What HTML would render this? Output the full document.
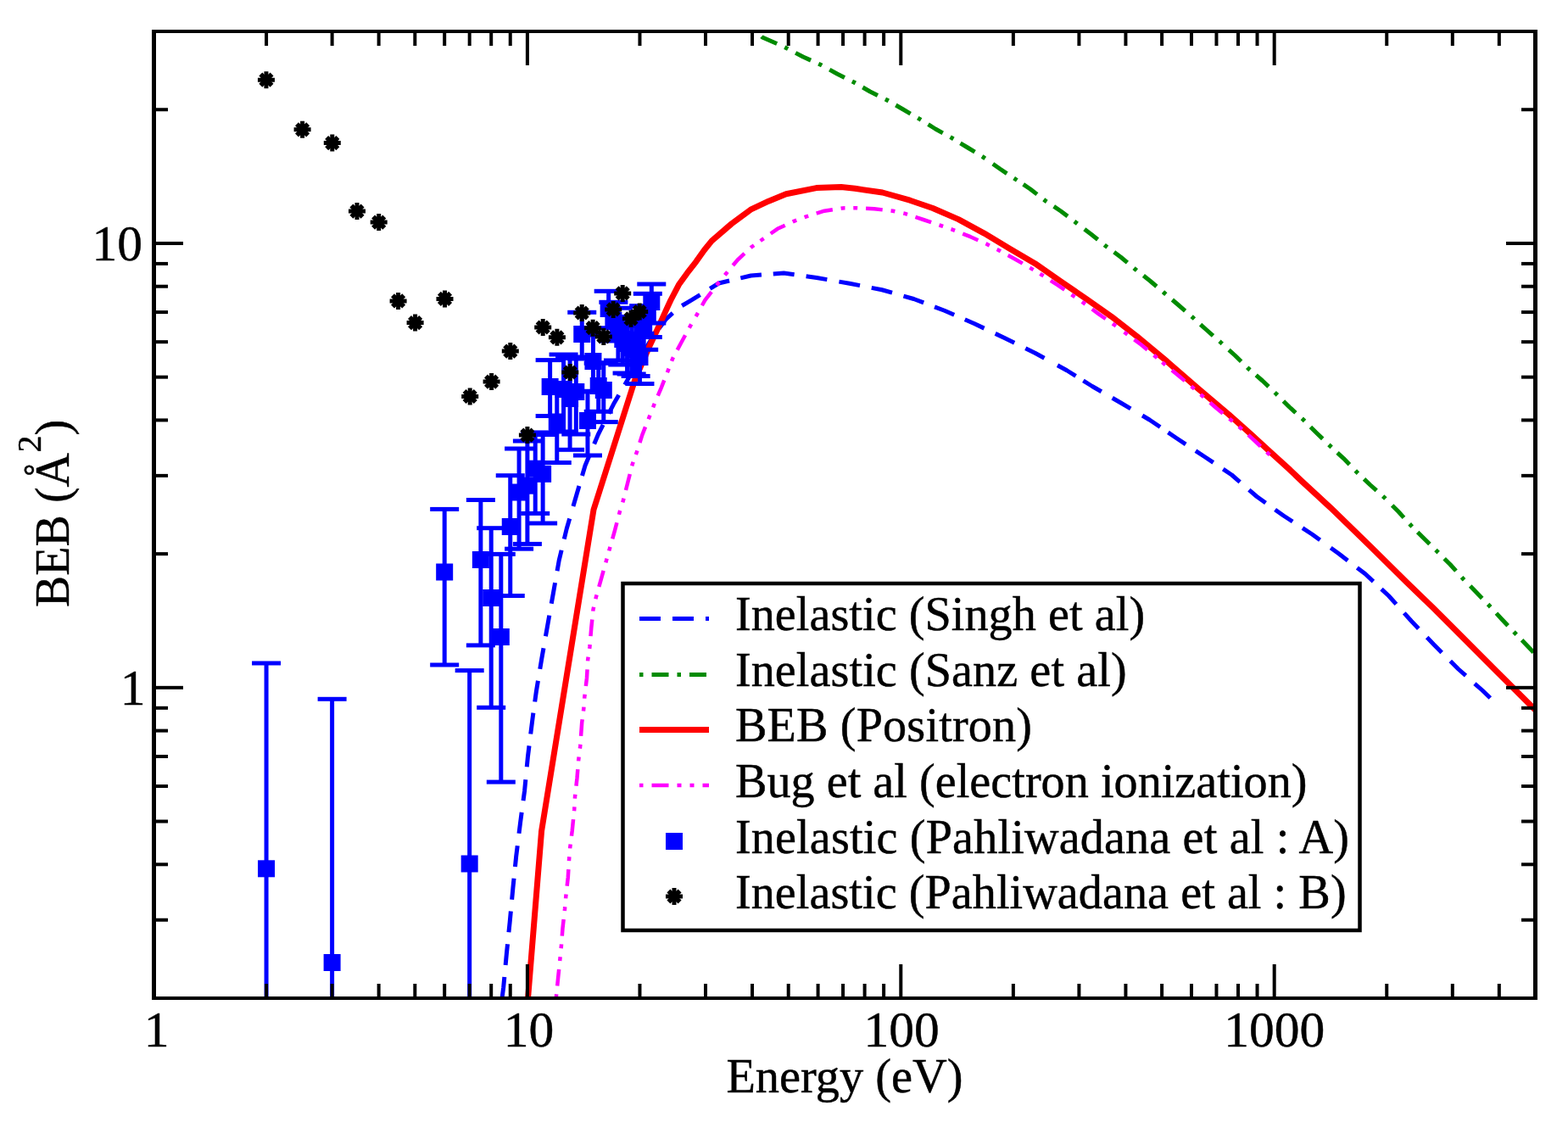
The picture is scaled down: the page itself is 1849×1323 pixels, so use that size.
<!DOCTYPE html><html><head><meta charset="utf-8"><title>BEB cross section plot</title>
<style>html,body{margin:0;padding:0;background:#fff;}svg{display:block;}text{font-family:"Liberation Serif","Times New Roman",serif;fill:#000;stroke:#000;stroke-width:0.45px;}</style></head><body>
<svg width="1849" height="1323" viewBox="0 0 1849 1323">
<rect x="0" y="0" width="1849" height="1323" fill="#fff"/>
<defs><clipPath id="pc"><rect x="181.5" y="37.0" width="1629.0" height="1140.0"/></clipPath></defs>
<g clip-path="url(#pc)" fill="none" stroke-linejoin="round">
<path d="M897.6 42.6 L899 44 L915 51 L928 57 L929.51 57.8" stroke="#008b00" stroke-width="5" stroke-dasharray="4.4 10 20 10" stroke-dashoffset="13.69"/>
<path d="M929.51 57.8 L947 67 L968 76.5 L969.6 77.39" stroke="#008b00" stroke-width="5" stroke-dasharray="4.4 10 20 10" stroke-dashoffset="4.64"/>
<path d="M969.6 77.39 L987 87 L1007 97 L1008.99 98.15" stroke="#008b00" stroke-width="5" stroke-dasharray="4.4 10 20 10" stroke-dashoffset="4.52"/>
<path d="M1008.99 98.15 L1026 108 L1046 118 L1047.99 119.15" stroke="#008b00" stroke-width="5" stroke-dasharray="4.4 10 20 10" stroke-dashoffset="4.74"/>
<path d="M1047.99 119.15 L1065 129 L1084.5 140.4 L1086.3 141.53" stroke="#008b00" stroke-width="5" stroke-dasharray="4.4 10 20 10" stroke-dashoffset="4.74"/>
<path d="M1086.3 141.53 L1103 152 L1123 163 L1124.39 163.85" stroke="#008b00" stroke-width="5" stroke-dasharray="4.4 10 20 10" stroke-dashoffset="4.69"/>
<path d="M1124.39 163.85 L1141 174 L1160.5 186 L1162.84 187.64" stroke="#008b00" stroke-width="5" stroke-dasharray="4.4 10 20 10" stroke-dashoffset="4.94"/>
<path d="M1162.84 187.64 L1179 199 L1197 211 L1199.5 212.66" stroke="#008b00" stroke-width="5" stroke-dasharray="4.4 10 20 10" stroke-dashoffset="4.65"/>
<path d="M1199.5 212.66 L1215 223 L1233 237 L1234.59 238.06" stroke="#008b00" stroke-width="5" stroke-dasharray="4.4 10 20 10" stroke-dashoffset="5.77"/>
<path d="M1234.59 238.06 L1251 249 L1268.75 262.5 L1270.88 264.12" stroke="#008b00" stroke-width="5" stroke-dasharray="4.4 10 20 10" stroke-dashoffset="4.68"/>
<path d="M1270.88 264.12 L1286.75 276.25 L1303.75 290 L1305.96 291.63" stroke="#008b00" stroke-width="5" stroke-dasharray="4.4 10 20 10" stroke-dashoffset="4.42"/>
<path d="M1305.96 291.63 L1321.75 303.25 L1338.75 317.5 L1340.74 319.07" stroke="#008b00" stroke-width="5" stroke-dasharray="4.4 10 20 10" stroke-dashoffset="4.79"/>
<path d="M1340.74 319.07 L1356.25 331.25 L1373 345.5 L1375.04 347.24" stroke="#008b00" stroke-width="5" stroke-dasharray="4.4 10 20 10" stroke-dashoffset="4.68"/>
<path d="M1375.04 347.24 L1390 360 L1406.75 374.5 L1408.52 376.11" stroke="#008b00" stroke-width="5" stroke-dasharray="4.4 10 20 10" stroke-dashoffset="4.73"/>
<path d="M1408.52 376.11 L1423 389.25 L1440 404.25 L1441.71 405.81" stroke="#008b00" stroke-width="5" stroke-dasharray="4.4 10 20 10" stroke-dashoffset="4.85"/>
<path d="M1441.71 405.81 L1456.5 419.25 L1472 434.5 L1474.05 436.27" stroke="#008b00" stroke-width="5" stroke-dasharray="4.4 10 20 10" stroke-dashoffset="4.41"/>
<path d="M1474.05 436.27 L1488.75 449 L1505 464.5 L1506.58 466.08" stroke="#008b00" stroke-width="5" stroke-dasharray="4.4 10 20 10" stroke-dashoffset="4.95"/>
<path d="M1506.58 466.08 L1520.5 480 L1537 495 L1538.63 496.63" stroke="#008b00" stroke-width="5" stroke-dasharray="4.4 10 20 10" stroke-dashoffset="4.71"/>
<path d="M1538.63 496.63 L1552.5 510.5 L1568.25 525.6 L1570.16 527.38" stroke="#008b00" stroke-width="5" stroke-dasharray="4.4 10 20 10" stroke-dashoffset="4.79"/>
<path d="M1570.16 527.38 L1584.4 540.6 L1600.25 557 L1601.55 558.24" stroke="#008b00" stroke-width="5" stroke-dasharray="4.4 10 20 10" stroke-dashoffset="4.97"/>
<path d="M1601.55 558.24 L1615.75 571.75 L1632.75 587 L1634.8 589.05" stroke="#008b00" stroke-width="5" stroke-dasharray="4.4 10 20 10" stroke-dashoffset="4.80"/>
<path d="M1634.8 589.05 L1648.75 603 L1663.75 619.5 L1665.49 621.24" stroke="#008b00" stroke-width="5" stroke-dasharray="4.4 10 20 10" stroke-dashoffset="4.67"/>
<path d="M1665.49 621.24 L1678.75 634.5 L1695 650.5 L1696.33 651.83" stroke="#008b00" stroke-width="5" stroke-dasharray="4.4 10 20 10" stroke-dashoffset="5.64"/>
<path d="M1696.33 651.83 L1710.25 665.75 L1725.75 683 L1726.87 684.14" stroke="#008b00" stroke-width="5" stroke-dasharray="4.4 10 20 10" stroke-dashoffset="4.71"/>
<path d="M1726.87 684.14 L1740.75 698.25 L1756.5 714.5 L1757.9 716.02" stroke="#008b00" stroke-width="5" stroke-dasharray="4.4 10 20 10" stroke-dashoffset="4.61"/>
<path d="M1757.9 716.02 L1771.25 730.5 L1787 747 L1788.41 748.46" stroke="#008b00" stroke-width="5" stroke-dasharray="4.4 10 20 10" stroke-dashoffset="4.70"/>
<path d="M1788.41 748.46 L1801.5 762 L1815 776" stroke="#008b00" stroke-width="5" stroke-dasharray="4.4 10 20 10" stroke-dashoffset="5.56"/>
<path d="M591.2 1200 L592.4 1174.2 L593.7 1164.2 L597.4 1124.3 L599.23 1106.25" stroke="#0000ff" stroke-width="5" stroke-dasharray="25 14" stroke-dashoffset="15.82"/>
<path d="M599.23 1106.25 L601.2 1086.9 L602.99 1067.6" stroke="#0000ff" stroke-width="5" stroke-dasharray="25 14" stroke-dashoffset="32.05"/>
<path d="M602.99 1067.6 L604.9 1047 L606.73 1028.95" stroke="#0000ff" stroke-width="5" stroke-dasharray="25 14" stroke-dashoffset="32.12"/>
<path d="M606.73 1028.95 L608.7 1009.6 L611.11 989.95" stroke="#0000ff" stroke-width="5" stroke-dasharray="25 14" stroke-dashoffset="32.05"/>
<path d="M611.11 989.95 L613.6 969.7 L616.1 951" stroke="#0000ff" stroke-width="5" stroke-dasharray="25 14" stroke-dashoffset="31.70"/>
<path d="M616.1 951 L618.6 932.3 L620.56 911.75" stroke="#0000ff" stroke-width="5" stroke-dasharray="25 14" stroke-dashoffset="32.03"/>
<path d="M620.56 911.75 L622.4 892.4 L626.1 862.5 L628.3 845 L628.91 840.53" stroke="#0000ff" stroke-width="5" stroke-dasharray="25 14" stroke-dashoffset="31.46"/>
<path d="M628.91 840.53 L632.4 815.1 L635.6 795.8" stroke="#0000ff" stroke-width="5" stroke-dasharray="25 14" stroke-dashoffset="25.83"/>
<path d="M635.6 795.8 L638.8 776.5 L642.2 757.25" stroke="#0000ff" stroke-width="5" stroke-dasharray="25 14" stroke-dashoffset="31.94"/>
<path d="M642.2 757.25 L645.6 738 L649 718.75" stroke="#0000ff" stroke-width="5" stroke-dasharray="25 14" stroke-dashoffset="31.95"/>
<path d="M649 718.75 L652.4 699.5 L655.8 680.2" stroke="#0000ff" stroke-width="5" stroke-dasharray="25 14" stroke-dashoffset="31.95"/>
<path d="M655.8 680.2 L659.2 660.9 L663.7 642.2" stroke="#0000ff" stroke-width="5" stroke-dasharray="25 14" stroke-dashoffset="31.90"/>
<path d="M663.7 642.2 L668.2 623.5 L673.81 604.28" stroke="#0000ff" stroke-width="5" stroke-dasharray="25 14" stroke-dashoffset="32.27"/>
<path d="M673.81 604.28 L679.5 584.8 L684.71 567.03" stroke="#0000ff" stroke-width="5" stroke-dasharray="25 14" stroke-dashoffset="31.47"/>
<path d="M684.71 567.03 L690 549 L697.75 530.5" stroke="#0000ff" stroke-width="5" stroke-dasharray="25 14" stroke-dashoffset="32.71"/>
<path d="M697.75 530.5 L705.5 512 L714.5 494.3" stroke="#0000ff" stroke-width="5" stroke-dasharray="25 14" stroke-dashoffset="31.44"/>
<path d="M714.5 494.3 L723.5 476.6 L740 448 L755 421 L769.12 398.4" stroke="#0000ff" stroke-width="5" stroke-dasharray="25 14" stroke-dashoffset="31.64"/>
<path d="M769.12 398.4 L770 397 L785.3 376.5 L800 363 L815 354.1 L831.41 343.98" stroke="#0000ff" stroke-width="5" stroke-dasharray="25 14" stroke-dashoffset="25.94"/>
<path d="M831.41 343.98 L847.6 334 L866.71 329.46" stroke="#0000ff" stroke-width="5" stroke-dasharray="25 14" stroke-dashoffset="32.15"/>
<path d="M866.71 329.46 L885.5 325 L904.88 323.5" stroke="#0000ff" stroke-width="5" stroke-dasharray="25 14" stroke-dashoffset="32.19"/>
<path d="M904.88 323.5 L924.25 322 L943.62 324.75" stroke="#0000ff" stroke-width="5" stroke-dasharray="25 14" stroke-dashoffset="32.07"/>
<path d="M943.62 324.75 L963 327.5 L982.37 330.88" stroke="#0000ff" stroke-width="5" stroke-dasharray="25 14" stroke-dashoffset="31.93"/>
<path d="M982.37 330.88 L1001.75 334.25 L1020.88 338" stroke="#0000ff" stroke-width="5" stroke-dasharray="25 14" stroke-dashoffset="31.83"/>
<path d="M1020.88 338 L1040 341.75 L1058.75 347.12" stroke="#0000ff" stroke-width="5" stroke-dasharray="25 14" stroke-dashoffset="32.01"/>
<path d="M1058.75 347.12 L1077.5 352.5 L1095.62 359.37" stroke="#0000ff" stroke-width="5" stroke-dasharray="25 14" stroke-dashoffset="31.99"/>
<path d="M1095.62 359.37 L1113.75 366.25 L1131.5 374" stroke="#0000ff" stroke-width="5" stroke-dasharray="25 14" stroke-dashoffset="32.11"/>
<path d="M1131.5 374 L1149.25 381.75 L1167.12 390.25" stroke="#0000ff" stroke-width="5" stroke-dasharray="25 14" stroke-dashoffset="32.13"/>
<path d="M1167.12 390.25 L1185 398.75 L1202.75 407.5" stroke="#0000ff" stroke-width="5" stroke-dasharray="25 14" stroke-dashoffset="31.71"/>
<path d="M1202.75 407.5 L1220.5 416.25 L1239.25 426.5" stroke="#0000ff" stroke-width="5" stroke-dasharray="25 14" stroke-dashoffset="31.71"/>
<path d="M1239.25 426.5 L1258 436.75 L1273 446.12" stroke="#0000ff" stroke-width="5" stroke-dasharray="25 14" stroke-dashoffset="30.13"/>
<path d="M1273 446.12 L1288 455.5 L1305.25 465.5" stroke="#0000ff" stroke-width="5" stroke-dasharray="25 14" stroke-dashoffset="33.81"/>
<path d="M1305.25 465.5 L1322.5 475.5 L1340.17 485.94" stroke="#0000ff" stroke-width="5" stroke-dasharray="25 14" stroke-dashoffset="31.56"/>
<path d="M1340.17 485.94 L1355.5 495 L1372.78 506.74" stroke="#0000ff" stroke-width="5" stroke-dasharray="25 14" stroke-dashoffset="30.97"/>
<path d="M1372.78 506.74 L1387.5 516.75 L1404.08 527.71" stroke="#0000ff" stroke-width="5" stroke-dasharray="25 14" stroke-dashoffset="33.34"/>
<path d="M1404.08 527.71 L1420.4 538.5 L1436.52 549.3" stroke="#0000ff" stroke-width="5" stroke-dasharray="25 14" stroke-dashoffset="31.99"/>
<path d="M1436.52 549.3 L1452.5 560 L1467.49 572.96" stroke="#0000ff" stroke-width="5" stroke-dasharray="25 14" stroke-dashoffset="32.04"/>
<path d="M1467.49 572.96 L1482 585.5 L1498.04 596.96" stroke="#0000ff" stroke-width="5" stroke-dasharray="25 14" stroke-dashoffset="31.91"/>
<path d="M1498.04 596.96 L1513.5 608 L1547.25 630 L1562.9 641.36" stroke="#0000ff" stroke-width="5" stroke-dasharray="25 14" stroke-dashoffset="32.19"/>
<path d="M1562.9 641.36 L1578.25 652.5 L1610 676.75 L1624.21 690.06" stroke="#0000ff" stroke-width="5" stroke-dasharray="25 14" stroke-dashoffset="31.19"/>
<path d="M1624.21 690.06 L1637.5 702.5 L1651.12 717.64" stroke="#0000ff" stroke-width="5" stroke-dasharray="25 14" stroke-dashoffset="32.42"/>
<path d="M1651.12 717.64 L1664.5 732.5 L1677.74 746.36" stroke="#0000ff" stroke-width="5" stroke-dasharray="25 14" stroke-dashoffset="32.01"/>
<path d="M1677.74 746.36 L1691.25 760.5 L1705.22 774.47" stroke="#0000ff" stroke-width="5" stroke-dasharray="25 14" stroke-dashoffset="31.83"/>
<path d="M1705.22 774.47 L1719.5 788.75 L1733.7 801.35" stroke="#0000ff" stroke-width="5" stroke-dasharray="25 14" stroke-dashoffset="31.84"/>
<path d="M1733.7 801.35 L1748.25 814.25 L1760 825.5" stroke="#0000ff" stroke-width="5" stroke-dasharray="25 14" stroke-dashoffset="31.98"/>
<path d="M620.7 1200 L638.6 979.7 L700 601 L749 447 L766.8 406.2 L775.4 388 L785.6 365.4 L790.9 354 L800.4 335.8 L810.2 322.2 L820.8 308.6 L830.4 295 L839.2 284.1 L862.5 264 L885.2 247.2 L906.4 237.2 L927 228.7 L962.7 221.6 L991.9 220.6 L1008.2 222.3 L1040.6 227 L1073 236.2 L1100 245.5 L1130.2 258.6 L1160.5 275.1 L1190.7 293.2 L1220.5 310.7 L1250.2 331.4 L1280.5 352.2 L1310.7 373.3 L1340.5 396.5 L1376.3 426.3 L1412.6 458 L1448.9 488.6 L1475 511.8 L1496.2 531.3 L1519.9 552.9 L1535.6 567.9 L1551.9 582.9 L1568.9 598.6 L1617.2 645.5 L1658.4 686.3 L1690 716.8 L1724 750.8 L1764.9 791.7 L1808 834.7 L1815 841.7" stroke="#ff0000" stroke-width="7"/>
<path d="M655.3 1200 L656 1174.2 L658.5 1149.3 L660.3 1131.8 L661.8 1116.8 L663.5 1094.4 L666 1072 L667.3 1057 L669.8 1034.5 L671 1014.6 L672.2 999.6 L674.7 979.7 L677.2 954.7 L678 939.8 L680.5 917.3 L682.2 896.1 L684.2 880 L686.2 852 L688.2 836.6 L689.3 821.9 L692 799.2 L693.2 777.7 L694.39 769.73" stroke="#ff00ff" stroke-width="4.5" stroke-dasharray="19.7 9.9 4.9 9.9 4.9 9.9" stroke-dashoffset="21.63"/>
<path d="M694.39 769.73 L695.4 763 L697.3 740.3 L699.5 718.7 L701.28 710.99" stroke="#ff00ff" stroke-width="4.5" stroke-dasharray="19.7 9.9 4.9 9.9 4.9 9.9" stroke-dashoffset="39.46"/>
<path d="M701.28 710.99 L702.9 704 L709 682.4 L714.7 662 L716.91 654.09" stroke="#ff00ff" stroke-width="4.5" stroke-dasharray="19.7 9.9 4.9 9.9 4.9 9.9" stroke-dashoffset="39.43"/>
<path d="M716.91 654.09 L718.8 647.3 L724.9 625.8 L730.6 604.2 L732.75 597.18" stroke="#ff00ff" stroke-width="4.5" stroke-dasharray="19.7 9.9 4.9 9.9 4.9 9.9" stroke-dashoffset="39.65"/>
<path d="M732.75 597.18 L735.1 589.5 L741 566 L745.7 547.5 L748.25 540.37" stroke="#ff00ff" stroke-width="4.5" stroke-dasharray="19.7 9.9 4.9 9.9 4.9 9.9" stroke-dashoffset="39.36"/>
<path d="M748.25 540.37 L751 532.7 L757.4 512.6 L765.8 491.4 L768.27 485.01" stroke="#ff00ff" stroke-width="4.5" stroke-dasharray="19.7 9.9 4.9 9.9 4.9 9.9" stroke-dashoffset="39.81"/>
<path d="M768.27 485.01 L771.1 477.7 L779.6 457.6 L788 436.4 L790.37 430.24" stroke="#ff00ff" stroke-width="4.5" stroke-dasharray="19.7 9.9 4.9 9.9 4.9 9.9" stroke-dashoffset="39.39"/>
<path d="M790.37 430.24 L793.3 422.6 L802.9 404.7 L814.5 383.5 L817.86 377.72" stroke="#ff00ff" stroke-width="4.5" stroke-dasharray="19.7 9.9 4.9 9.9 4.9 9.9" stroke-dashoffset="39.65"/>
<path d="M817.86 377.72 L821.9 370.8 L831.4 353.9 L846.2 334.8 L851.45 328.43" stroke="#ff00ff" stroke-width="4.5" stroke-dasharray="19.7 9.9 4.9 9.9 4.9 9.9" stroke-dashoffset="39.10"/>
<path d="M851.45 328.43 L856.5 322.3 L870 306.25 L886.25 291.25 L892.88 286.61" stroke="#ff00ff" stroke-width="4.5" stroke-dasharray="19.7 9.9 4.9 9.9 4.9 9.9" stroke-dashoffset="39.18"/>
<path d="M892.88 286.61 L898.75 282.5 L916.8 269.8 L936.8 260.6 L943.95 257.95" stroke="#ff00ff" stroke-width="4.5" stroke-dasharray="19.7 9.9 4.9 9.9 4.9 9.9" stroke-dashoffset="39.81"/>
<path d="M943.95 257.95 L950.8 255.4 L972.1 248.7 L993.6 245.4 L1001.39 245.3" stroke="#ff00ff" stroke-width="4.5" stroke-dasharray="19.7 9.9 4.9 9.9 4.9 9.9" stroke-dashoffset="39.41"/>
<path d="M1001.39 245.3 L1008.7 245.2 L1030.9 246.3 L1053 248.7 L1060.35 250.33" stroke="#ff00ff" stroke-width="4.5" stroke-dasharray="19.7 9.9 4.9 9.9 4.9 9.9" stroke-dashoffset="39.51"/>
<path d="M1060.35 250.33 L1067.4 251.9 L1088.8 259 L1109.4 266 L1116.79 268.59" stroke="#ff00ff" stroke-width="4.5" stroke-dasharray="19.7 9.9 4.9 9.9 4.9 9.9" stroke-dashoffset="39.29"/>
<path d="M1116.79 268.59 L1123.4 270.9 L1144.4 279.2 L1163.9 287.9 L1171.23 291.68" stroke="#ff00ff" stroke-width="4.5" stroke-dasharray="19.7 9.9 4.9 9.9 4.9 9.9" stroke-dashoffset="39.46"/>
<path d="M1171.23 291.68 L1177.1 294.7 L1197.3 305.7 L1216 316.6 L1222.49 320.51" stroke="#ff00ff" stroke-width="4.5" stroke-dasharray="19.7 9.9 4.9 9.9 4.9 9.9" stroke-dashoffset="39.45"/>
<path d="M1222.49 320.51 L1228.6 324.2 L1247.2 336.1 L1265.7 348.8 L1271.69 352.91" stroke="#ff00ff" stroke-width="4.5" stroke-dasharray="19.7 9.9 4.9 9.9 4.9 9.9" stroke-dashoffset="39.83"/>
<path d="M1271.69 352.91 L1277.8 357.1 L1295.7 370.4 L1313.7 382.8 L1320.74 388.04" stroke="#ff00ff" stroke-width="4.5" stroke-dasharray="19.7 9.9 4.9 9.9 4.9 9.9" stroke-dashoffset="39.34"/>
<path d="M1320.74 388.04 L1325.8 391.8 L1345.4 406.2 L1360.9 419 L1367.42 424.54" stroke="#ff00ff" stroke-width="4.5" stroke-dasharray="19.7 9.9 4.9 9.9 4.9 9.9" stroke-dashoffset="38.42"/>
<path d="M1367.42 424.54 L1372.2 428.6 L1389.5 442.8 L1406.2 456.7 L1412.07 461.85" stroke="#ff00ff" stroke-width="4.5" stroke-dasharray="19.7 9.9 4.9 9.9 4.9 9.9" stroke-dashoffset="40.39"/>
<path d="M1412.07 461.85 L1417.6 466.7 L1434.4 481.2 L1451.6 495.3 L1457.19 499.96" stroke="#ff00ff" stroke-width="4.5" stroke-dasharray="19.7 9.9 4.9 9.9 4.9 9.9" stroke-dashoffset="39.51"/>
<path d="M1457.19 499.96 L1463 504.8 L1479.3 519.5 L1495.7 534.9 L1502.7 541" stroke="#ff00ff" stroke-width="4.5" stroke-dasharray="19.7 9.9 4.9 9.9 4.9 9.9" stroke-dashoffset="39.54"/>
</g>
<g clip-path="url(#pc)" fill="#0000ff">
<rect x="311.57" y="782" width="5" height="518"/>
<rect x="297.07" y="779.5" width="34" height="5"/>
<rect x="389.12" y="824.3" width="5" height="475.7"/>
<rect x="374.62" y="821.8" width="34" height="5"/>
<rect x="521.69" y="600.4" width="5" height="183.6"/>
<rect x="507.19" y="597.9" width="34" height="5"/>
<rect x="507.19" y="781.5" width="34" height="5"/>
<rect x="551.18" y="790.6" width="5" height="509.4"/>
<rect x="536.68" y="788.1" width="34" height="5"/>
<rect x="564.37" y="589.5" width="5" height="171.4"/>
<rect x="549.87" y="587" width="34" height="5"/>
<rect x="549.87" y="758.4" width="34" height="5"/>
<rect x="576.71" y="622.7" width="5" height="211.6"/>
<rect x="562.21" y="620.2" width="34" height="5"/>
<rect x="562.21" y="831.8" width="34" height="5"/>
<rect x="588.31" y="653.4" width="5" height="268.7"/>
<rect x="573.81" y="650.9" width="34" height="5"/>
<rect x="573.81" y="919.6" width="34" height="5"/>
<rect x="599.24" y="560.7" width="5" height="141.8"/>
<rect x="584.74" y="558.2" width="34" height="5"/>
<rect x="584.74" y="700" width="34" height="5"/>
<rect x="609.58" y="529" width="5" height="118.18"/>
<rect x="595.08" y="526.5" width="34" height="5"/>
<rect x="595.08" y="644.68" width="34" height="5"/>
<rect x="619.39" y="520" width="5" height="121.41"/>
<rect x="604.89" y="517.5" width="34" height="5"/>
<rect x="604.89" y="638.91" width="34" height="5"/>
<rect x="628.72" y="509.94" width="5" height="95.46"/>
<rect x="614.22" y="507.44" width="34" height="5"/>
<rect x="614.22" y="602.9" width="34" height="5"/>
<rect x="637.62" y="512.5" width="5" height="104.5"/>
<rect x="623.12" y="510" width="34" height="5"/>
<rect x="623.12" y="614.5" width="34" height="5"/>
<rect x="646.12" y="424.6" width="5" height="65.9"/>
<rect x="631.62" y="422.1" width="34" height="5"/>
<rect x="631.62" y="488" width="34" height="5"/>
<rect x="654.26" y="457.88" width="5" height="87.62"/>
<rect x="639.76" y="455.38" width="34" height="5"/>
<rect x="639.76" y="543" width="34" height="5"/>
<rect x="662.07" y="418.03" width="5" height="90.97"/>
<rect x="647.57" y="415.53" width="34" height="5"/>
<rect x="647.57" y="506.5" width="34" height="5"/>
<rect x="669.57" y="422.38" width="5" height="107.92"/>
<rect x="655.07" y="419.88" width="34" height="5"/>
<rect x="655.07" y="527.8" width="34" height="5"/>
<rect x="676.79" y="421.03" width="5" height="90.97"/>
<rect x="662.29" y="418.53" width="34" height="5"/>
<rect x="662.29" y="509.5" width="34" height="5"/>
<rect x="683.75" y="368.28" width="5" height="54.72"/>
<rect x="669.25" y="365.78" width="34" height="5"/>
<rect x="669.25" y="420.5" width="34" height="5"/>
<rect x="690.46" y="461.27" width="5" height="75.73"/>
<rect x="675.96" y="458.77" width="34" height="5"/>
<rect x="675.96" y="534.5" width="34" height="5"/>
<rect x="696.94" y="395" width="5" height="66.9"/>
<rect x="682.44" y="392.5" width="34" height="5"/>
<rect x="682.44" y="459.4" width="34" height="5"/>
<rect x="703.21" y="428.27" width="5" height="57.03"/>
<rect x="688.71" y="425.77" width="34" height="5"/>
<rect x="688.71" y="482.8" width="34" height="5"/>
<rect x="709.29" y="427.74" width="5" height="69.86"/>
<rect x="694.79" y="425.24" width="34" height="5"/>
<rect x="694.79" y="495.1" width="34" height="5"/>
<rect x="715.17" y="343.3" width="5" height="43.47"/>
<rect x="700.67" y="340.8" width="34" height="5"/>
<rect x="700.67" y="384.27" width="34" height="5"/>
<rect x="720.88" y="356.3" width="5" height="45.69"/>
<rect x="706.38" y="353.8" width="34" height="5"/>
<rect x="706.38" y="399.49" width="34" height="5"/>
<rect x="726.43" y="363.19" width="5" height="61.81"/>
<rect x="711.93" y="360.69" width="34" height="5"/>
<rect x="711.93" y="422.5" width="34" height="5"/>
<rect x="731.81" y="373.5" width="5" height="56.5"/>
<rect x="717.31" y="371" width="34" height="5"/>
<rect x="717.31" y="427.5" width="34" height="5"/>
<rect x="737.05" y="374.67" width="5" height="65.33"/>
<rect x="722.55" y="372.17" width="34" height="5"/>
<rect x="722.55" y="437.5" width="34" height="5"/>
<rect x="742.15" y="382.72" width="5" height="58.28"/>
<rect x="727.65" y="380.22" width="34" height="5"/>
<rect x="727.65" y="438.5" width="34" height="5"/>
<rect x="747.12" y="384.34" width="5" height="59.16"/>
<rect x="732.62" y="381.84" width="34" height="5"/>
<rect x="732.62" y="441" width="34" height="5"/>
<rect x="751.96" y="393.34" width="5" height="59.16"/>
<rect x="737.46" y="390.84" width="34" height="5"/>
<rect x="737.46" y="450" width="34" height="5"/>
<rect x="756.69" y="360.63" width="5" height="51.67"/>
<rect x="742.19" y="358.13" width="34" height="5"/>
<rect x="742.19" y="409.8" width="34" height="5"/>
<rect x="761.3" y="346.3" width="5" height="51.2"/>
<rect x="746.8" y="343.8" width="34" height="5"/>
<rect x="746.8" y="395" width="34" height="5"/>
<rect x="765.8" y="335" width="5" height="46"/>
<rect x="751.3" y="332.5" width="34" height="5"/>
<rect x="751.3" y="378.5" width="34" height="5"/>
<rect x="304.07" y="1014.3" width="20" height="20"/>
<rect x="381.62" y="1125" width="20" height="20"/>
<rect x="514.19" y="664.5" width="20" height="20"/>
<rect x="543.68" y="1008.5" width="20" height="20"/>
<rect x="556.87" y="650" width="20" height="20"/>
<rect x="569.21" y="695" width="20" height="20"/>
<rect x="580.81" y="741" width="20" height="20"/>
<rect x="591.74" y="611" width="20" height="20"/>
<rect x="602.08" y="570.5" width="20" height="20"/>
<rect x="611.89" y="562.7" width="20" height="20"/>
<rect x="621.22" y="542.7" width="20" height="20"/>
<rect x="630.12" y="548.8" width="20" height="20"/>
<rect x="638.62" y="446" width="20" height="20"/>
<rect x="646.76" y="487.5" width="20" height="20"/>
<rect x="654.57" y="449" width="20" height="20"/>
<rect x="662.07" y="460" width="20" height="20"/>
<rect x="669.29" y="452" width="20" height="20"/>
<rect x="676.25" y="384" width="20" height="20"/>
<rect x="682.96" y="486" width="20" height="20"/>
<rect x="689.44" y="416" width="20" height="20"/>
<rect x="695.71" y="445" width="20" height="20"/>
<rect x="701.79" y="450" width="20" height="20"/>
<rect x="707.67" y="354" width="20" height="20"/>
<rect x="713.38" y="368" width="20" height="20"/>
<rect x="718.93" y="382" width="20" height="20"/>
<rect x="724.31" y="390" width="20" height="20"/>
<rect x="729.55" y="395" width="20" height="20"/>
<rect x="734.65" y="400" width="20" height="20"/>
<rect x="739.62" y="402" width="20" height="20"/>
<rect x="744.46" y="411" width="20" height="20"/>
<rect x="749.19" y="375" width="20" height="20"/>
<rect x="753.8" y="362" width="20" height="20"/>
<rect x="758.3" y="346" width="20" height="20"/>
</g>
<g clip-path="url(#pc)" fill="#000"><path d="M303.95 94.2H323.95M313.95 84.2V104.2M346.6 152.8H366.6M356.6 142.8V162.8M381.8 168.6H401.8M391.8 158.6V178.6M411 249.1H431M421 239.1V259.1M436.7 262.1H456.7M446.7 252.1V272.1M459.6 354.9H479.6M469.6 344.9V364.9M479.6 380.6H499.6M489.6 370.6V390.6M514.5 352.4H534.5M524.5 342.4V362.4M544.2 467.5H564.2M554.2 457.5V477.5M569.6 450.1H589.6M579.6 440.1V460.1M591.8 414.1H611.8M601.8 404.1V424.1M611.9 513.1H631.9M621.9 503.1V523.1M630.2 386H650.2M640.2 376V396M646.9 397.8H666.9M656.9 387.8V407.8M662.3 439H682.3M672.3 429V449M676.2 369H696.2M686.2 359V379M689.1 386.7H709.1M699.1 376.7V396.7M701.8 396.9H721.8M711.8 386.9V406.9M713.2 364.9H733.2M723.2 354.9V374.9M724.2 345.9H744.2M734.2 335.9V355.9M734 375.8H754M744 365.8V385.8M744.2 367.6H764.2M754.2 357.6V377.6" stroke="#000" stroke-width="5" fill="none"/><path d="M307.35 87.6L320.55 100.8M307.35 100.8L320.55 87.6M350 146.2L363.2 159.4M350 159.4L363.2 146.2M385.2 162L398.4 175.2M385.2 175.2L398.4 162M414.4 242.5L427.6 255.7M414.4 255.7L427.6 242.5M440.1 255.5L453.3 268.7M440.1 268.7L453.3 255.5M463 348.3L476.2 361.5M463 361.5L476.2 348.3M483 374L496.2 387.2M483 387.2L496.2 374M517.9 345.8L531.1 359M517.9 359L531.1 345.8M547.6 460.9L560.8 474.1M547.6 474.1L560.8 460.9M573 443.5L586.2 456.7M573 456.7L586.2 443.5M595.2 407.5L608.4 420.7M595.2 420.7L608.4 407.5M615.3 506.5L628.5 519.7M615.3 519.7L628.5 506.5M633.6 379.4L646.8 392.6M633.6 392.6L646.8 379.4M650.3 391.2L663.5 404.4M650.3 404.4L663.5 391.2M665.7 432.4L678.9 445.6M665.7 445.6L678.9 432.4M679.6 362.4L692.8 375.6M679.6 375.6L692.8 362.4M692.5 380.1L705.7 393.3M692.5 393.3L705.7 380.1M705.2 390.3L718.4 403.5M705.2 403.5L718.4 390.3M716.6 358.3L729.8 371.5M716.6 371.5L729.8 358.3M727.6 339.3L740.8 352.5M727.6 352.5L740.8 339.3M737.4 369.2L750.6 382.4M737.4 382.4L750.6 369.2M747.6 361L760.8 374.2M747.6 374.2L760.8 361" stroke="#000" stroke-width="5.6" fill="none"/><circle cx="313.95" cy="94.2" r="4.2"/><circle cx="356.6" cy="152.8" r="4.2"/><circle cx="391.8" cy="168.6" r="4.2"/><circle cx="421" cy="249.1" r="4.2"/><circle cx="446.7" cy="262.1" r="4.2"/><circle cx="469.6" cy="354.9" r="4.2"/><circle cx="489.6" cy="380.6" r="4.2"/><circle cx="524.5" cy="352.4" r="4.2"/><circle cx="554.2" cy="467.5" r="4.2"/><circle cx="579.6" cy="450.1" r="4.2"/><circle cx="601.8" cy="414.1" r="4.2"/><circle cx="621.9" cy="513.1" r="4.2"/><circle cx="640.2" cy="386" r="4.2"/><circle cx="656.9" cy="397.8" r="4.2"/><circle cx="672.3" cy="439" r="4.2"/><circle cx="686.2" cy="369" r="4.2"/><circle cx="699.1" cy="386.7" r="4.2"/><circle cx="711.8" cy="396.9" r="4.2"/><circle cx="723.2" cy="364.9" r="4.2"/><circle cx="734.2" cy="345.9" r="4.2"/><circle cx="744" cy="375.8" r="4.2"/><circle cx="754.2" cy="367.6" r="4.2"/></g>
<g fill="#000">
<rect x="179" y="35" width="5" height="1144"/>
<rect x="1808" y="35" width="5" height="1144"/>
<rect x="179" y="35" width="1634" height="4"/>
<rect x="179" y="1175" width="1634" height="4"/>
<rect x="312.07" y="1160" width="4" height="17"/>
<rect x="312.07" y="37" width="4" height="17"/>
<rect x="389.62" y="1160" width="4" height="17"/>
<rect x="389.62" y="37" width="4" height="17"/>
<rect x="444.64" y="1160" width="4" height="17"/>
<rect x="444.64" y="37" width="4" height="17"/>
<rect x="487.32" y="1160" width="4" height="17"/>
<rect x="487.32" y="37" width="4" height="17"/>
<rect x="522.19" y="1160" width="4" height="17"/>
<rect x="522.19" y="37" width="4" height="17"/>
<rect x="551.68" y="1160" width="4" height="17"/>
<rect x="551.68" y="37" width="4" height="17"/>
<rect x="577.21" y="1160" width="4" height="17"/>
<rect x="577.21" y="37" width="4" height="17"/>
<rect x="599.74" y="1160" width="4" height="17"/>
<rect x="599.74" y="37" width="4" height="17"/>
<rect x="619.89" y="1137" width="4" height="40"/>
<rect x="619.89" y="37" width="4" height="40"/>
<rect x="752.46" y="1160" width="4" height="17"/>
<rect x="752.46" y="37" width="4" height="17"/>
<rect x="830.01" y="1160" width="4" height="17"/>
<rect x="830.01" y="37" width="4" height="17"/>
<rect x="885.04" y="1160" width="4" height="17"/>
<rect x="885.04" y="37" width="4" height="17"/>
<rect x="927.71" y="1160" width="4" height="17"/>
<rect x="927.71" y="37" width="4" height="17"/>
<rect x="962.59" y="1160" width="4" height="17"/>
<rect x="962.59" y="37" width="4" height="17"/>
<rect x="992.07" y="1160" width="4" height="17"/>
<rect x="992.07" y="37" width="4" height="17"/>
<rect x="1017.61" y="1160" width="4" height="17"/>
<rect x="1017.61" y="37" width="4" height="17"/>
<rect x="1040.13" y="1160" width="4" height="17"/>
<rect x="1040.13" y="37" width="4" height="17"/>
<rect x="1060.29" y="1137" width="4" height="40"/>
<rect x="1060.29" y="37" width="4" height="40"/>
<rect x="1192.86" y="1160" width="4" height="17"/>
<rect x="1192.86" y="37" width="4" height="17"/>
<rect x="1270.41" y="1160" width="4" height="17"/>
<rect x="1270.41" y="37" width="4" height="17"/>
<rect x="1325.43" y="1160" width="4" height="17"/>
<rect x="1325.43" y="37" width="4" height="17"/>
<rect x="1368.11" y="1160" width="4" height="17"/>
<rect x="1368.11" y="37" width="4" height="17"/>
<rect x="1402.98" y="1160" width="4" height="17"/>
<rect x="1402.98" y="37" width="4" height="17"/>
<rect x="1432.46" y="1160" width="4" height="17"/>
<rect x="1432.46" y="37" width="4" height="17"/>
<rect x="1458" y="1160" width="4" height="17"/>
<rect x="1458" y="37" width="4" height="17"/>
<rect x="1480.53" y="1160" width="4" height="17"/>
<rect x="1480.53" y="37" width="4" height="17"/>
<rect x="1500.68" y="1137" width="4" height="40"/>
<rect x="1500.68" y="37" width="4" height="40"/>
<rect x="1633.25" y="1160" width="4" height="17"/>
<rect x="1633.25" y="37" width="4" height="17"/>
<rect x="1710.8" y="1160" width="4" height="17"/>
<rect x="1710.8" y="37" width="4" height="17"/>
<rect x="1765.82" y="1160" width="4" height="17"/>
<rect x="1765.82" y="37" width="4" height="17"/>
<rect x="1808.5" y="1160" width="4" height="17"/>
<rect x="1808.5" y="37" width="4" height="17"/>
<rect x="181.5" y="1082.75" width="16.5" height="4"/>
<rect x="1794" y="1082.75" width="16.5" height="4"/>
<rect x="181.5" y="1017.3" width="16.5" height="4"/>
<rect x="1794" y="1017.3" width="16.5" height="4"/>
<rect x="181.5" y="966.53" width="16.5" height="4"/>
<rect x="1794" y="966.53" width="16.5" height="4"/>
<rect x="181.5" y="925.05" width="16.5" height="4"/>
<rect x="1794" y="925.05" width="16.5" height="4"/>
<rect x="181.5" y="889.98" width="16.5" height="4"/>
<rect x="1794" y="889.98" width="16.5" height="4"/>
<rect x="181.5" y="859.6" width="16.5" height="4"/>
<rect x="1794" y="859.6" width="16.5" height="4"/>
<rect x="181.5" y="832.8" width="16.5" height="4"/>
<rect x="1794" y="832.8" width="16.5" height="4"/>
<rect x="181.5" y="808.83" width="34.5" height="4"/>
<rect x="1776" y="808.83" width="34.5" height="4"/>
<rect x="181.5" y="651.12" width="16.5" height="4"/>
<rect x="1794" y="651.12" width="16.5" height="4"/>
<rect x="181.5" y="558.88" width="16.5" height="4"/>
<rect x="1794" y="558.88" width="16.5" height="4"/>
<rect x="181.5" y="493.42" width="16.5" height="4"/>
<rect x="1794" y="493.42" width="16.5" height="4"/>
<rect x="181.5" y="442.65" width="16.5" height="4"/>
<rect x="1794" y="442.65" width="16.5" height="4"/>
<rect x="181.5" y="401.17" width="16.5" height="4"/>
<rect x="1794" y="401.17" width="16.5" height="4"/>
<rect x="181.5" y="366.1" width="16.5" height="4"/>
<rect x="1794" y="366.1" width="16.5" height="4"/>
<rect x="181.5" y="335.72" width="16.5" height="4"/>
<rect x="1794" y="335.72" width="16.5" height="4"/>
<rect x="181.5" y="308.92" width="16.5" height="4"/>
<rect x="1794" y="308.92" width="16.5" height="4"/>
<rect x="181.5" y="284.95" width="34.5" height="4"/>
<rect x="1776" y="284.95" width="34.5" height="4"/>
<rect x="181.5" y="127.25" width="16.5" height="4"/>
<rect x="1794" y="127.25" width="16.5" height="4"/>
</g>
<rect x="734.5" y="688" width="869" height="409" fill="#fff" stroke="#000" stroke-width="4.5"/>
<path d="M754 729.5H836" stroke="#0000ff" stroke-width="5" stroke-dasharray="25 14"/>
<path d="M754 795.5H836" stroke="#008b00" stroke-width="5" stroke-dasharray="4.5 10 20 10"/>
<path d="M754 860.5H836" stroke="#ff0000" stroke-width="7"/>
<path d="M754 926H836" stroke="#ff00ff" stroke-width="4.5" stroke-dasharray="4.5 10 20 10 5 10 5 10 20 10"/>
<rect x="785" y="982" width="20" height="20" fill="#0000ff"/>
<g fill="#000"><path d="M785 1057H805M795 1047V1067" stroke="#000" stroke-width="5" fill="none"/><path d="M788.4 1050.4L801.6 1063.6M788.4 1063.6L801.6 1050.4" stroke="#000" stroke-width="5.6" fill="none"/><circle cx="795" cy="1057" r="4.2"/></g>
<text x="866.9" y="743" font-size="56.2" textLength="483.2">Inelastic (Singh et al)</text>
<text x="866.9" y="808.8" font-size="56.2" textLength="461.7">Inelastic (Sanz et al)</text>
<text x="866.9" y="874.4" font-size="56.2" textLength="350.1">BEB (Positron)</text>
<text x="866.9" y="940" font-size="56.2" textLength="674.6">Bug et al (electron ionization)</text>
<text x="866.9" y="1005.8" font-size="56.2" textLength="724.1">Inelastic (Pahliwadana et al : A)</text>
<text x="866.9" y="1071" font-size="56.2" textLength="720.7">Inelastic (Pahliwadana et al : B)</text>
<g font-size="59.5" text-anchor="middle">
<text x="184.6" y="1234">1</text>
<text x="623.4" y="1234">10</text>
<text x="1063" y="1234">100</text>
<text x="1502.75" y="1234">1000</text>
</g>
<text x="171.5" y="830.8" font-size="59.5" text-anchor="end">1</text>
<text x="168.1" y="306.9" font-size="59.5" text-anchor="end">10</text>
<text x="996" y="1287.8" font-size="56.4" text-anchor="middle">Energy (eV)</text>
<g transform="translate(80.8 716) rotate(-90)" font-size="56">
<text x="0" y="0">BEB (A</text>
<text x="152.4" y="-10.8">&#730;</text>
<text x="182.4" y="-32.8" font-size="40">2</text>
<text x="202.4" y="0">)</text>
</g>
</svg></body></html>
